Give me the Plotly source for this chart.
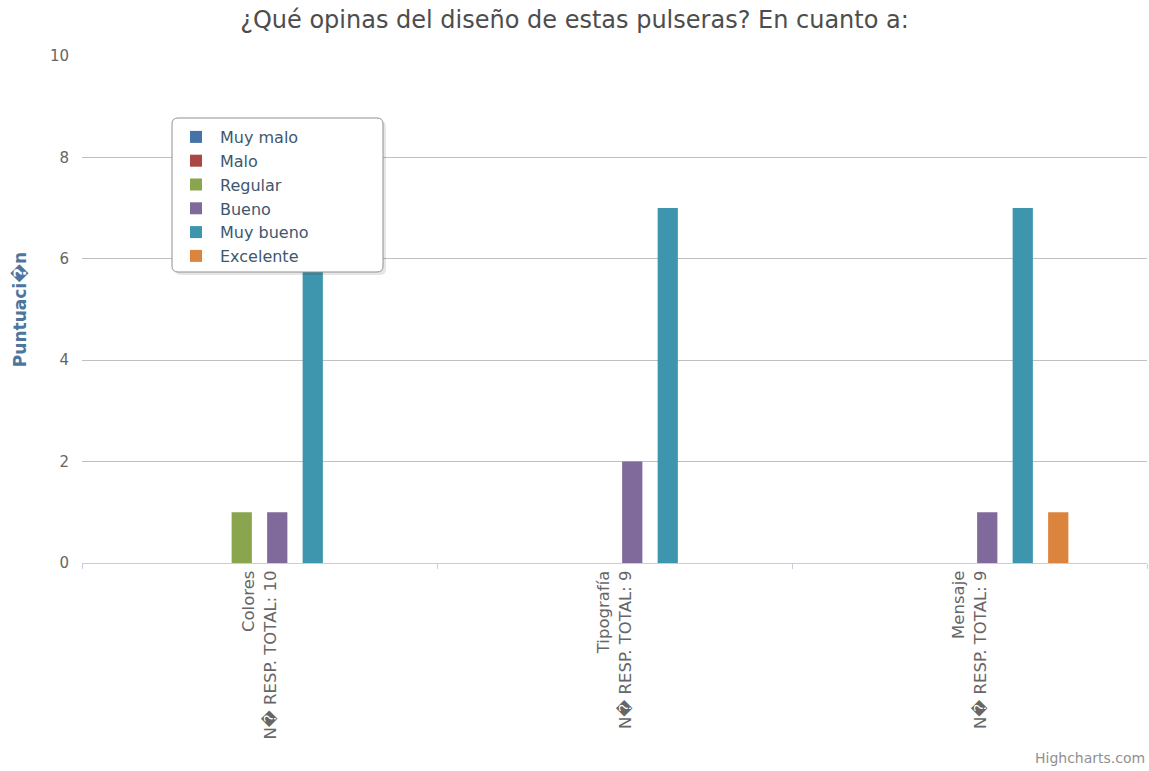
import plotly.graph_objects as go

categories = ["Colores<br>N\ufffd RESP. TOTAL: 10",
              "Tipografía<br>N\ufffd RESP. TOTAL: 9",
              "Mensaje<br>N\ufffd RESP. TOTAL: 9"]
series_names = ["Muy malo", "Malo", "Regular", "Bueno", "Muy bueno", "Excelente"]
muy_malo = [0, 0, 0]
malo = [0, 0, 0]
regular = [1, 0, 0]
bueno = [1, 2, 1]
muy_bueno = [8, 7, 7]
excelente = [0, 0, 1]
colors = ["#4572A7", "#AA4643", "#89A54E", "#80699B", "#3D96AE", "#DB843D"]

values = [muy_malo, malo, regular, bueno, muy_bueno, excelente]

FONT = "DejaVu Sans"
W, H = 1149, 771
ML, MR, MT, MB = 82, 2, 56, 208
PW, PH = W - ML - MR, H - MT - MB


def px(x):
    return (x - ML) / PW


def py(y):
    return 1 - (y - MT) / PH


def rounded_rect(x0, y0, x1, y1, r):
    pts = [
        f"M {px(x0 + r)} {py(y0)}",
        f"L {px(x1 - r)} {py(y0)}",
        f"Q {px(x1)} {py(y0)} {px(x1)} {py(y0 + r)}",
        f"L {px(x1)} {py(y1 - r)}",
        f"Q {px(x1)} {py(y1)} {px(x1 - r)} {py(y1)}",
        f"L {px(x0 + r)} {py(y1)}",
        f"Q {px(x0)} {py(y1)} {px(x0)} {py(y1 - r)}",
        f"L {px(x0)} {py(y0 + r)}",
        f"Q {px(x0)} {py(y0)} {px(x0 + r)} {py(y0)}",
        "Z",
    ]
    return " ".join(pts)


fig = go.Figure()
for name, vals, col in zip(series_names, values, colors):
    fig.add_trace(go.Bar(x=categories, y=vals, name=name,
                         marker=dict(color=col, line=dict(width=0))))

# legend box (rounded, with soft shadow) drawn behind the legend entries
fig.add_shape(type="path", xref="paper", yref="paper", layer="above",
              path=rounded_rect(175, 121, 386, 275, 6),
              fillcolor="rgba(0,0,0,0.10)", line=dict(width=0))
fig.add_shape(type="path", xref="paper", yref="paper", layer="above",
              path=rounded_rect(172, 118, 383, 272, 6),
              fillcolor="white", line=dict(color="#909090", width=1))

fig.update_layout(
    width=W, height=H,
    margin=dict(l=ML, r=MR, t=MT, b=MB),
    paper_bgcolor="white", plot_bgcolor="white",
    barmode="group", bargap=0.4, bargroupgap=0.43,
    font=dict(family=FONT, color="#666666"),
    title=dict(text="¿Qué opinas del diseño de estas pulseras? En cuanto a:",
               x=0.5, xanchor="center", y=1 - 20 / H, yanchor="middle",
               font=dict(size=24, color="#4d4d4d", family=FONT)),
    showlegend=True,
    legend=dict(x=px(172), y=py(120), xanchor="left", yanchor="top",
                bgcolor="rgba(0,0,0,0)", borderwidth=0, itemwidth=38,
                font=dict(size=16, color="#3E576F", family=FONT),
                itemclick=False),
    xaxis=dict(showline=True, linecolor="#C0D0E0", linewidth=1,
               tickson="boundaries", ticks="outside", ticklen=5, tickcolor="#C0D0E0",
               tickangle=-90, tickfont=dict(size=16.5, color="#666666"),
               showgrid=False),
    yaxis=dict(range=[0, 10], dtick=2, showgrid=True, gridcolor="#C0C0C0",
               zeroline=False, showline=False,
               tickfont=dict(size=15, color="#666666"), ticklabelstandoff=12,
               title=dict(text="<b>Puntuaci\ufffdn</b>", standoff=18,
                          font=dict(size=17, color="#4d759e", family=FONT))),
)

fig.add_annotation(text="Highcharts.com", xref="paper", yref="paper",
                   x=1, y=py(758), xanchor="right", yanchor="middle",
                   showarrow=False, font=dict(size=14, color="#909090", family=FONT))

fig.write_html("out.html",
               config={"displayModeBar": False},
               post_script="document.body.style.margin='0';"
                           "document.body.style.overflow='hidden';")
